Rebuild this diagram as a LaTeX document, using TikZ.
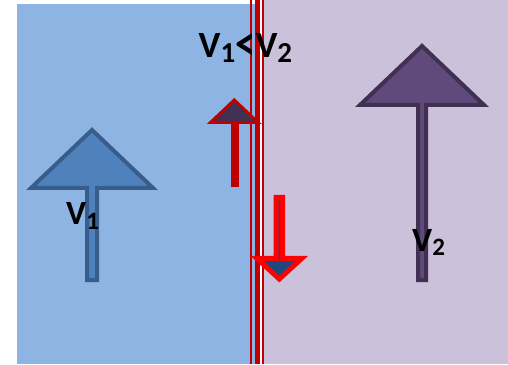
\documentclass[tikz,border=0pt]{standalone}
\usepackage{fontspec}
\setmainfont{Carlito}
\usetikzlibrary{positioning}
\definecolor{flsky}{HTML}{8EB4E3}
\definecolor{fllilac}{HTML}{CCC1DA}
\definecolor{flblue}{HTML}{4F81BD}
\definecolor{flblueedge}{HTML}{385D8A}
\definecolor{flpurple}{HTML}{604A7B}
\definecolor{flpurpleedge}{HTML}{403152}
\definecolor{fldarkred}{HTML}{C00000}
\definecolor{flred}{HTML}{FF0000}
\definecolor{flnavy}{HTML}{1F497D}
\newcommand\velo[2][28]{V\raisebox{-4.5pt}{\fontsize{#1}{#1}\selectfont#2}}
\tikzset{
    slab/.style={
        fill=#1,draw=none
    },
    wall/.style={
        draw=#1,line cap=butt
    },
    wall/.default=fldarkred,
    flowarrow/.style={
        draw=#1,line join=miter
    },
    vlabel/.style={
        inner sep=0pt,anchor=base west,text=black,
        font=\fontsize{#1}{40}\selectfont\bfseries
    },
    vlabel/.default=34
}
\begin{document}
\begin{tikzpicture}[x=1pt,y=1pt]

\useasboundingbox (0,0) rectangle (508,364);

\fill[slab=flsky] (17,0) rectangle (255,360);
\fill[slab=fllilac] (255,0) rectangle (508,364);
\fill[slab=white] (259.5,0) rectangle (262,364);

\draw[wall,line width=2] (251,0) -- (251,364);
\draw[wall,line width=5] (257,0) -- (257,364);
\draw[wall,line width=1.8] (263,0) -- (263,364);

\filldraw[flowarrow=flblueedge,fill=flblue,line width=4]
(87,84) -- (87,176) -- (31,176) -- (92,234) -- (153,176)
-- (97,176) -- (97,84) -- cycle;

\filldraw[flowarrow=flpurpleedge,fill=flpurple,line width=4]
(418,84) -- (418,259) -- (360,259) -- (422,318) -- (484,259)
-- (426,259) -- (426,84) -- cycle;

\fill[fldarkred] (230.5,177.3) rectangle (239,242);
\filldraw[flowarrow=fldarkred,fill=flpurpleedge,line width=3]
(210.5,241.5) -- (234.3,264) -- (258,241.5) -- cycle;

\filldraw[flowarrow=flred,fill=flnavy,line width=5]
(276,166.5) -- (276,105.5) -- (257,105.5) -- (279.3,85) -- (301.6,105.5)
-- (282.6,105.5) -- (282.6,166.5) -- cycle;

\node[vlabel=37] (cmp) at (198.5,306.3)
{\velo[29]{1}\raisebox{-2.5pt}{\scalebox{1.1}[1.35]{<}}\velo[29]{2}};
\node[vlabel] (v1lbl) at (66,139) {\velo[25]{1}};
\node[vlabel] (v2lbl) at (412,112.7) {\velo[25]{2}};

\end{tikzpicture}
\end{document}
